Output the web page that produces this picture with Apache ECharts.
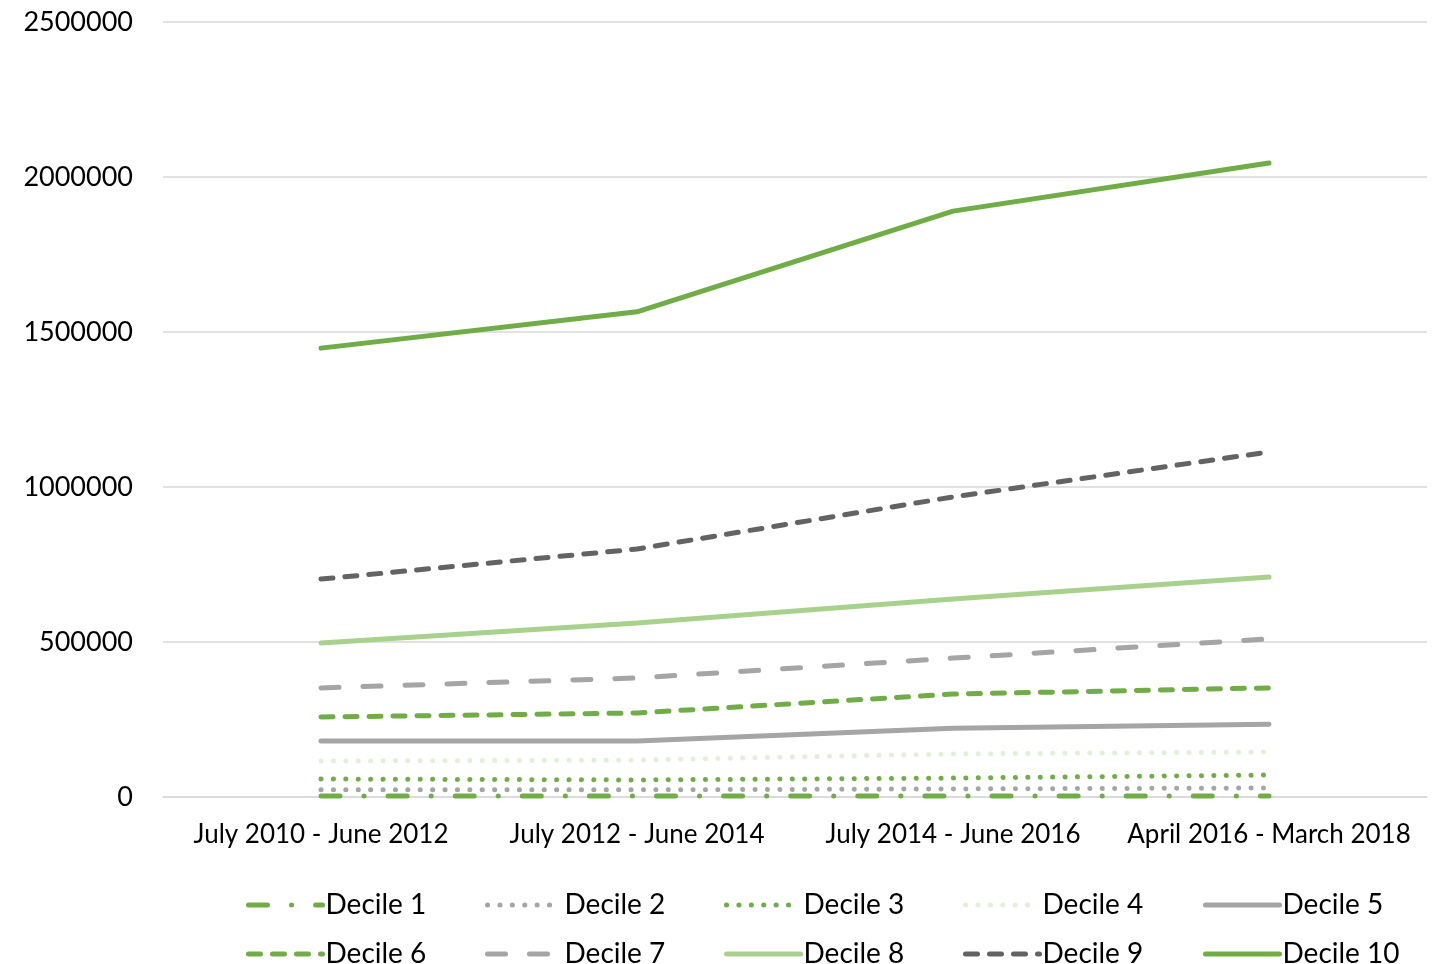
<!DOCTYPE html>
<html>
<head>
<meta charset="utf-8">
<script src="https://cdn.jsdelivr.net/npm/echarts@6/dist/echarts.min.js"></script>
<style>
  html, body { margin: 0; padding: 0; background: #fff; }
  #main { width: 1437px; height: 964px; }
</style>
</head>
<body>
<div id="main"></div>
<script>
// periods on the x axis
var periods = ['July 2010 - June 2012', 'July 2012 - June 2014', 'July 2014 - June 2016', 'April 2016 - March 2018'];
var yTicks = [0, 500000, 1000000, 1500000, 2000000, 2500000];

// values per decile
var decile1 = [3000, 3000, 3000, 3000];
var decile2 = [23000, 23000, 26000, 29000];
var decile3 = [58000, 55000, 61000, 71000];
var decile4 = [116000, 119000, 139000, 145000];
var decile5 = [181000, 181000, 222000, 235000];
var decile6 = [258000, 271000, 332000, 352000];
var decile7 = [352000, 384000, 448000, 510000];
var decile8 = [497000, 561000, 639000, 710000];
var decile9 = [703000, 800000, 968000, 1113000];
var decile10 = [1448000, 1565000, 1890000, 2045000];

var names = ['Decile 1', 'Decile 2', 'Decile 3', 'Decile 4', 'Decile 5',
             'Decile 6', 'Decile 7', 'Decile 8', 'Decile 9', 'Decile 10'];
var values = [decile1, decile2, decile3, decile4, decile5, decile6, decile7, decile8, decile9, decile10];

var green = '#70AD47', gray = '#A5A5A5', lightGreen = '#A9D18E', paleGreen = '#E2F0D9', darkGray = '#636363';
// colour + dash for each line
var styles = [
    {color: green, dash: [19, 24, 0.1, 24]},
    {color: gray, dash: [0.1, 12.3]},
    {color: green, dash: [0.1, 12.3]},
    {color: paleGreen, dash: [0.1, 12.3]},
    {color: gray, dash: 'solid'},
    {color: green, dash: [12, 12]},
    {color: gray, dash: [18, 24]},
    {color: lightGreen, dash: 'solid'},
    {color: darkGray, dash: [12, 12]},
    {color: green, dash: 'solid'}
];

var font = 'Lato, "Open Sans", sans-serif';

var series = names.map(function (n, i) {
    return {
        name: n,
        type: 'line',
        data: values[i],
        symbol: 'none',
        z: 10 - i,
        lineStyle: {width: 5, color: styles[i].color, type: styles[i].dash, cap: 'round'},
        itemStyle: {color: styles[i].color}
    };
});

// one legend per item so the columns line up like the original
var colX = [246, 485, 724, 963, 1203];
var rowY = [891, 940];
var legends = names.map(function (n, i) {
    return {
        data: [n],
        left: colX[i % 5],
        top: rowY[Math.floor(i / 5)],
        padding: 0,
        itemWidth: 74,
        itemHeight: 34,
        itemStyle: {opacity: 0},
        lineStyle: {width: 5, cap: 'round'},
        textStyle: {fontSize: 28, color: '#000', fontFamily: font, padding: [0, 0, 0, -2]}
    };
});

var chart = echarts.init(document.getElementById('main'));
chart.setOption({
    animation: false,
    grid: {left: 163, right: 10, top: 22, bottom: 167},
    legend: legends,
    xAxis: {
        type: 'category',
        data: periods,
        boundaryGap: true,
        axisLine: {lineStyle: {color: '#D9D9D9', width: 1.5}},
        axisTick: {show: false},
        axisLabel: {fontSize: 26, color: '#000', fontFamily: font, margin: 25, interval: 0}
    },
    yAxis: {
        type: 'value',
        min: yTicks[0],
        max: yTicks[yTicks.length - 1],
        interval: yTicks[1] - yTicks[0],
        axisLine: {show: false},
        axisTick: {show: false},
        splitLine: {lineStyle: {color: '#D9D9D9', width: 1.5}},
        axisLabel: {fontSize: 27, color: '#000', fontFamily: font, margin: 30,
            formatter: function (v) { return String(v); }}
    },
    series: series
});
</script>
</body>
</html>
